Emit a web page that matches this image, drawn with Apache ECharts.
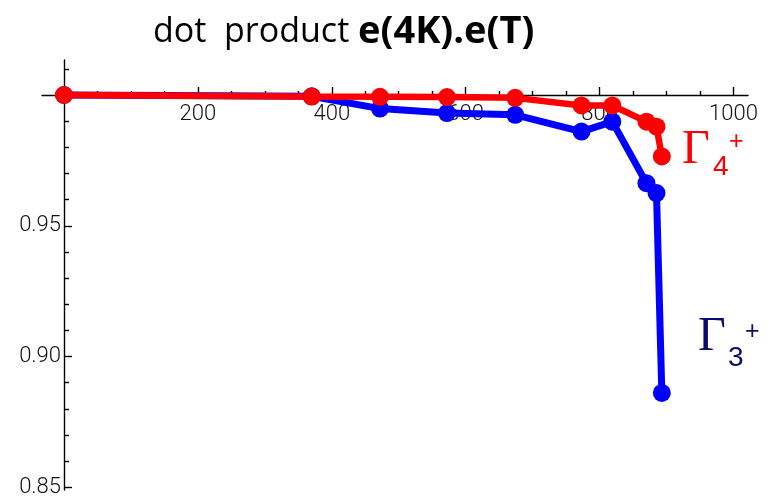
<!DOCTYPE html>
<html>
<head>
<meta charset="utf-8">
<script src="https://cdn.jsdelivr.net/npm/echarts@6/dist/echarts.min.js"></script>
<style>
  html, body { margin: 0; padding: 0; background: #fff; }
  #chart { width: 769px; height: 500px; }
</style>
</head>
<body>
<div id="chart"></div>
<script>
// Temperature (K) at which the eigenvectors were compared
const temperatures = [0, 370, 472, 572, 674, 773, 819, 870, 885, 893];
// dot product e(4K).e(T) for each mode
const gamma4Values = [1.0, 0.9994, 0.9993, 0.9992, 0.9989, 0.9960, 0.9960, 0.9898, 0.9879, 0.9765];
const gamma3Values = [1.0, 0.9995, 0.9948, 0.9931, 0.9924, 0.9860, 0.9898, 0.9663, 0.9625, 0.8861];

// axis ticks
const xMajorTicks = [200, 400, 600, 800, 1000];
const xMinorTicks = [50, 100, 150, 250, 300, 350, 450, 500, 550, 650, 700, 750, 850, 900, 950];
const yMajorTicks = [0.85, 0.90, 0.95, 1.00];
const yTickLabels = [0.85, 0.90, 0.95];
const yMinorTicks = [0.86, 0.87, 0.88, 0.89, 0.91, 0.92, 0.93, 0.94, 0.96, 0.97, 0.98, 0.99, 1.01];

const pairs = (xs, ys) => xs.map((x, i) => [x, ys[i]]);

const tickFont = {
  fontFamily: 'Roboto, sans-serif',
  fontSize: 22,
  fontWeight: 300,
  color: '#111'
};
const axisLineStyle = { color: '#000', width: 1.4 };

const X_MIN = -32.9, X_MAX = 1021.7;
const Y_MIN = 0.84897, Y_MAX = 1.01338;

const chart = echarts.init(document.getElementById('chart'), null, { renderer: 'canvas' });

chart.setOption({
  animation: false,
  backgroundColor: '#fff',
  title: {
    text: '{n|dot  product }{b|e(4K).e(T)}',
    left: 148,
    top: 8,
    textStyle: {
      fontWeight: 'normal',
      rich: {
        n: { fontFamily: '"Open Sans", sans-serif', fontSize: 34, fontWeight: 'normal', color: '#000' },
        b: { fontFamily: '"Open Sans", sans-serif', fontSize: 38, fontWeight: 'bold', color: '#000' }
      }
    }
  },
  grid: { left: 42, right: 21, top: 60, bottom: 10, containLabel: false },
  xAxis: [
    {
      type: 'value', min: X_MIN, max: X_MAX, position: 'top', offset: -35,
      axisLine: { show: true, onZero: false, lineStyle: axisLineStyle },
      axisTick: { show: true, inside: false, length: 8, customValues: xMajorTicks, lineStyle: axisLineStyle },
      axisLabel: { show: true, inside: true, margin: 8, customValues: xMajorTicks, formatter: v => String(v), ...tickFont },
      splitLine: { show: false }
    },
    {
      type: 'value', min: X_MIN, max: X_MAX, position: 'top', offset: -35,
      axisLine: { show: false, onZero: false },
      axisTick: { show: true, inside: false, length: 4, customValues: xMinorTicks, lineStyle: axisLineStyle },
      axisLabel: { show: false },
      splitLine: { show: false }
    }
  ],
  yAxis: [
    {
      type: 'value', min: Y_MIN, max: Y_MAX, position: 'left', offset: -22,
      axisLine: { show: true, onZero: false, lineStyle: axisLineStyle },
      axisTick: { show: true, inside: true, length: 8, customValues: yMajorTicks, lineStyle: axisLineStyle },
      axisLabel: {
        show: true, margin: 3, customValues: yTickLabels,
        formatter: v => v.toFixed(2), ...tickFont
      },
      splitLine: { show: false }
    },
    {
      type: 'value', min: Y_MIN, max: Y_MAX, position: 'left', offset: -22,
      axisLine: { show: false, onZero: false },
      axisTick: { show: true, inside: true, length: 5, customValues: yMinorTicks, lineStyle: axisLineStyle },
      axisLabel: { show: false },
      splitLine: { show: false }
    }
  ],
  series: [
    {
      name: 'Γ3+', type: 'line', xAxisIndex: 0, yAxisIndex: 0,
      data: pairs(temperatures, gamma3Values),
      clip: false, symbol: 'circle', symbolSize: 18,
      lineStyle: { color: '#0000ff', width: 7 },
      itemStyle: { color: '#0000ff' }
    },
    {
      name: 'Γ4+', type: 'line', xAxisIndex: 0, yAxisIndex: 0,
      data: pairs(temperatures, gamma4Values),
      clip: false, symbol: 'circle', symbolSize: 18,
      lineStyle: { color: '#ff0000', width: 6.5 },
      itemStyle: { color: '#ff0000' }
    }
  ],
  graphic: [
    // Γ4+ label
    { type: 'text', left: 682, top: 126, style: { text: 'Γ', font: '48px "Liberation Serif", "DejaVu Serif", serif', fill: '#ff0000' } },
    { type: 'text', left: 713, top: 153, style: { text: '4', font: '28px "Liberation Sans", sans-serif', fill: '#ff0000' } },
    { type: 'text', left: 729, top: 130, style: { text: '+', font: '25px "Liberation Sans", sans-serif', fill: '#ff0000' } },
    // Γ3+ label
    { type: 'text', left: 698, top: 313, style: { text: 'Γ', font: '48px "Liberation Serif", "DejaVu Serif", serif', fill: '#0c0c6e' } },
    { type: 'text', left: 728, top: 344, style: { text: '3', font: '28px "Liberation Sans", sans-serif', fill: '#0c0c6e' } },
    { type: 'text', left: 745, top: 320, style: { text: '+', font: '25px "Liberation Sans", sans-serif', fill: '#0c0c6e' } }
  ]
});
</script>
</body>
</html>
